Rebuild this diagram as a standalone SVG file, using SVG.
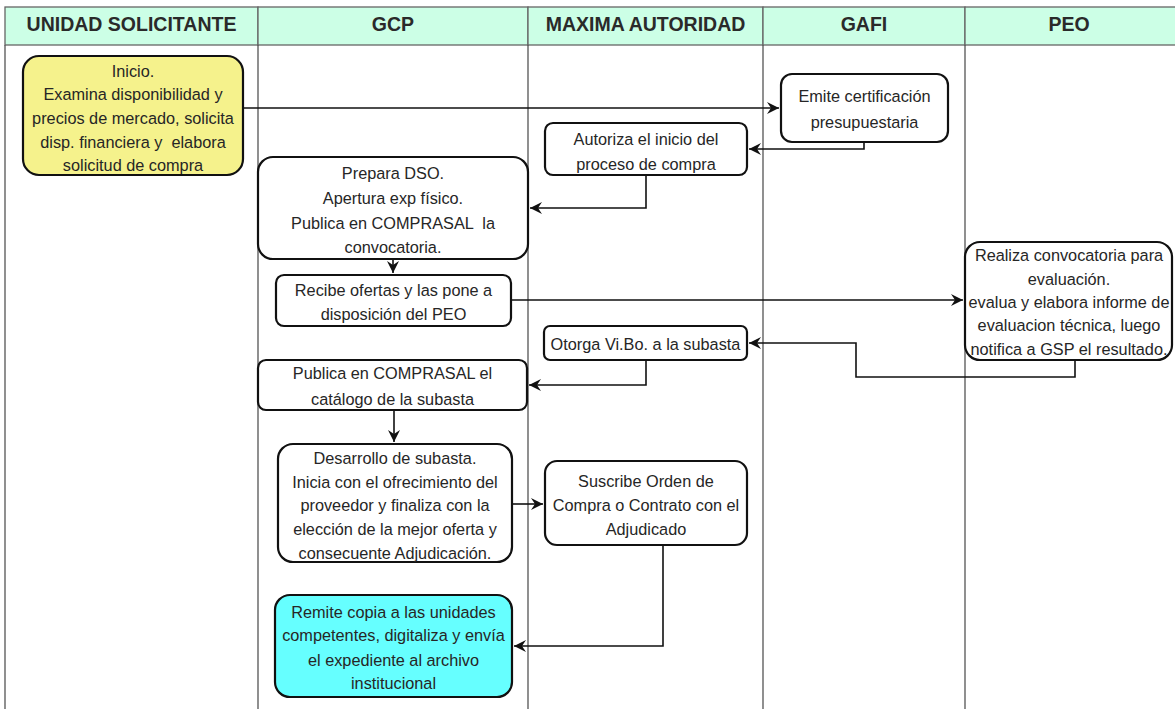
<svg xmlns="http://www.w3.org/2000/svg" width="1175" height="709" viewBox="0 0 1175 709">
<style>
.hdr{fill:#CCFFE6;stroke:#666;stroke-width:1.3}
.lane{stroke:#555;stroke-width:1.3;fill:none}
.ht{font-family:"Liberation Sans",Arial,sans-serif;font-weight:bold;font-size:19.5px;fill:#2a2a2a;text-anchor:middle}
.box{stroke:#111;stroke-width:2.2;fill:#fff}
.t{font-family:"Liberation Sans",Arial,sans-serif;font-size:16.3px;fill:#262626;text-anchor:middle}
.c{stroke:#111;stroke-width:1.6;fill:none}
</style>
<defs>
<marker id="ah" markerUnits="userSpaceOnUse" markerWidth="14" markerHeight="12" refX="12" refY="6" orient="auto">
<path d="M0,0 L12,6 L0,12 L4,6 Z" fill="#111"/>
</marker>
</defs>
<rect width="1175" height="709" fill="#fff"/>
<g id="lanes">
<rect class="hdr" x="5" y="7" width="253" height="38"/>
<rect class="hdr" x="258" y="7" width="270" height="38"/>
<rect class="hdr" x="528" y="7" width="235" height="38"/>
<rect class="hdr" x="763" y="7" width="202" height="38"/>
<rect class="hdr" x="965" y="7" width="212" height="38"/>
<path class="lane" d="M5,45 V709 M258,45 V709 M528,45 V709 M763,45 V709 M965,45 V709"/>
<text class="ht" x="131.5" y="31">UNIDAD SOLICITANTE</text>
<text class="ht" x="393" y="31">GCP</text>
<text class="ht" x="645.5" y="31">MAXIMA AUTORIDAD</text>
<text class="ht" x="864" y="31">GAFI</text>
<text class="ht" x="1069" y="31">PEO</text>
</g>
<g id="connectors">
<path class="c" d="M243,108 H779" marker-end="url(#ah)"/>
<path class="c" d="M864,142 V149 H749" marker-end="url(#ah)"/>
<path class="c" d="M646,175 V208 H530" marker-end="url(#ah)"/>
<path class="c" d="M393,259 V273" marker-end="url(#ah)"/>
<path class="c" d="M511,300 H963" marker-end="url(#ah)"/>
<path class="c" d="M1075,360 V377 H856 V343 H749" marker-end="url(#ah)"/>
<path class="c" d="M646,360 V385 H529" marker-end="url(#ah)"/>
<path class="c" d="M394,410 V442" marker-end="url(#ah)"/>
<path class="c" d="M512,504 H543" marker-end="url(#ah)"/>
<path class="c" d="M663,545 V646 H514" marker-end="url(#ah)"/>
</g>
<g id="n1">
<rect class="box" x="23" y="56" width="220" height="119" rx="16" style="fill:#F5F28C"/>
<text class="t" xml:space="preserve"><tspan x="133" y="76.5">Inicio.</tspan><tspan x="133" y="100">Examina disponibilidad y</tspan><tspan x="133" y="123.5">precios de mercado, solicita</tspan><tspan x="133" y="147.5">disp. financiera y  elabora</tspan><tspan x="133" y="171">solicitud de compra</tspan></text>
</g>
<g id="n2">
<rect class="box" x="781" y="74" width="167" height="68" rx="11"/>
<text class="t"><tspan x="864.5" y="102">Emite certificación</tspan><tspan x="864.5" y="128">presupuestaria</tspan></text>
</g>
<g id="n3">
<rect class="box" x="545" y="123" width="202" height="52" rx="8"/>
<text class="t"><tspan x="646" y="145">Autoriza el inicio del</tspan><tspan x="646" y="170">proceso de compra</tspan></text>
</g>
<g id="n4">
<rect class="box" x="258" y="157" width="270" height="102" rx="15"/>
<text class="t" xml:space="preserve"><tspan x="393" y="179">Prepara DSO.</tspan><tspan x="393" y="204">Apertura exp físico.</tspan><tspan x="393" y="229">Publica en COMPRASAL  la</tspan><tspan x="393" y="253">convocatoria.</tspan></text>
</g>
<g id="n5">
<rect class="box" x="276" y="275" width="235" height="51" rx="8"/>
<text class="t"><tspan x="393.5" y="296">Recibe ofertas y las pone a</tspan><tspan x="393.5" y="320">disposición del PEO</tspan></text>
</g>
<g id="n6">
<rect class="box" x="965" y="242" width="207" height="118" rx="15"/>
<text class="t"><tspan x="1069" y="261">Realiza convocatoria para</tspan><tspan x="1069" y="284.5">evaluación.</tspan><tspan x="1069" y="308">evalua y elabora informe de</tspan><tspan x="1069" y="331">evaluacion técnica, luego</tspan><tspan x="1069" y="354.5">notifica a GSP el resultado.</tspan></text>
</g>
<g id="n7">
<rect class="box" x="544" y="326" width="203" height="34" rx="6"/>
<text class="t"><tspan x="645.5" y="349.5">Otorga Vi.Bo. a la subasta</tspan></text>
</g>
<g id="n8">
<rect class="box" x="258" y="360" width="269" height="50" rx="8"/>
<text class="t"><tspan x="392.5" y="379">Publica en COMPRASAL el</tspan><tspan x="392.5" y="405">catálogo de la subasta</tspan></text>
</g>
<g id="n9">
<rect class="box" x="278" y="444" width="234" height="118" rx="15"/>
<text class="t"><tspan x="395" y="464">Desarrollo de subasta.</tspan><tspan x="395" y="487.7">Inicia con el ofrecimiento del</tspan><tspan x="395" y="511.4">proveedor y finaliza con la</tspan><tspan x="395" y="535">elección de la mejor oferta y</tspan><tspan x="395" y="558.8">consecuente Adjudicación.</tspan></text>
</g>
<g id="n10">
<rect class="box" x="545" y="461" width="202" height="84" rx="12"/>
<text class="t"><tspan x="646" y="487">Suscribe Orden de</tspan><tspan x="646" y="511">Compra o Contrato con el</tspan><tspan x="646" y="535">Adjudicado</tspan></text>
</g>
<g id="n11">
<rect class="box" x="275" y="595" width="237" height="102" rx="15" style="fill:#66FFFF"/>
<text class="t"><tspan x="393.5" y="618">Remite copia a las unidades</tspan><tspan x="393.5" y="641">competentes, digitaliza y envía</tspan><tspan x="393.5" y="666">el expediente al archivo</tspan><tspan x="393.5" y="689">institucional</tspan></text>
</g>
</svg>
